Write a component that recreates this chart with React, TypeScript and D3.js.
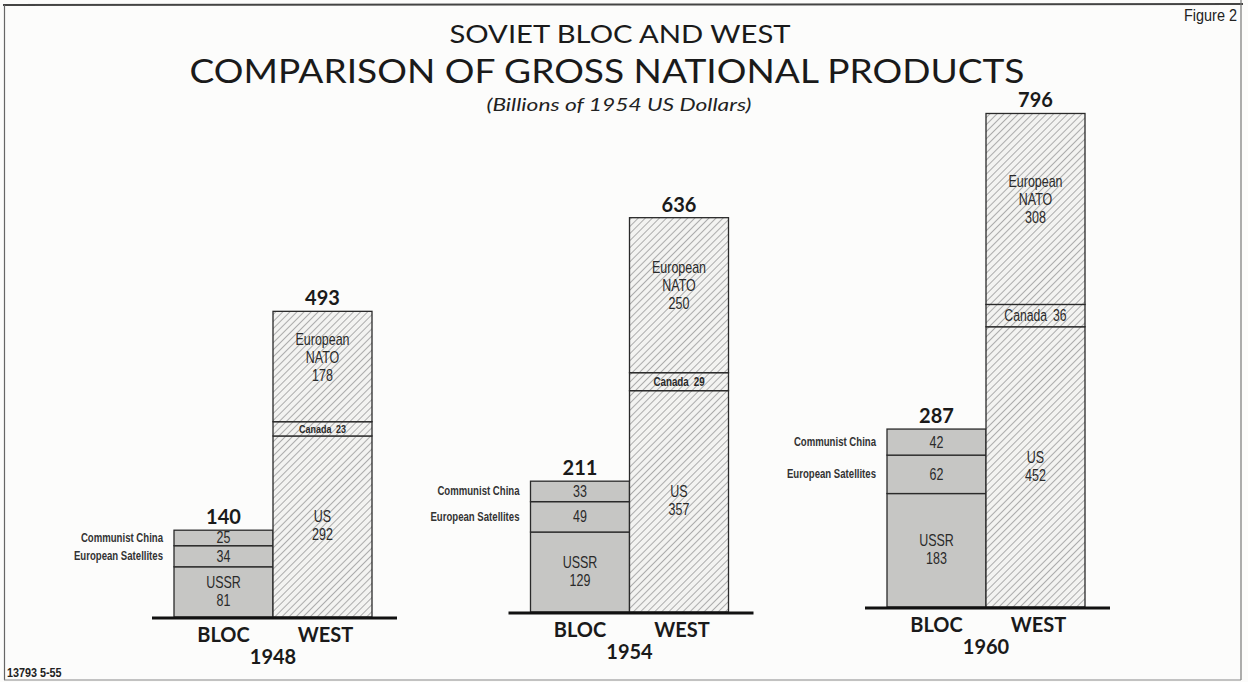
import React from "react";
import * as d3 from "d3";

// values in billions of 1954 US dollars
const years = ["1948", "1954", "1960"];
const sides = ["BLOC", "WEST"];
const ussr = [81, 129, 183];
const euroSatellites = [34, 49, 62];
const communistChina = [25, 33, 42];
const usGnp = [292, 357, 452];
const canada = [23, 29, 36];
const europeanNato = [178, 250, 308];
const blocTotals = [140, 211, 287];
const westTotals = [493, 636, 796];

const W = 1248;
const H = 682;
const titleFont = "Lato, 'Open Sans', sans-serif";
const narrowFont = "'Liberation Sans', Roboto, sans-serif";

// condensed lettering, as on the original chart: squeeze an ordinary face sideways
function Narrow({ x, y, lines, size, anchor = "middle", weight = "normal", lh = 17, sx = 0.78, fill = "#2a2a2a" }: any) {
  return (
    <text transform={`translate(${x},${y}) scale(${sx},1)`} textAnchor={anchor} fontFamily={narrowFont}
      fontSize={size} fontWeight={weight} fill={fill}>
      {lines.map((l: string, i: number) => (
        <tspan key={i} x={0} dy={i === 0 ? 0 : lh}>{l}</tspan>
      ))}
    </text>
  );
}

export default function App() {
  // group centres and the scan's slight tilt of the base lines
  const xGroup = d3.scalePoint<string>().domain(years).range([273, 986]);
  const xSide = d3.scaleBand<string>().domain(sides).range([-99, 99]).paddingInner(0);
  const baseY = d3.scaleLinear().domain([273, 986]).range([617, 607]);
  const hScale = d3.scaleLinear().domain([0, 800]).range([0, 496]);

  const blocRows = years.map((y, i) => ({ year: y, ussr: ussr[i], sat: euroSatellites[i], china: communistChina[i] }));
  const westRows = years.map((y, i) => ({ year: y, us: usGnp[i], canada: canada[i], nato: europeanNato[i] }));
  const blocStack = d3.stack<any>().keys(["ussr", "sat", "china"])(blocRows);
  const westStack = d3.stack<any>().keys(["us", "canada", "nato"])(westRows);

  const segs: any[] = [];
  blocStack.forEach((layer) => {
    layer.forEach((d, i) => {
      segs.push({ side: "BLOC", key: layer.key, year: years[i], y0: d[0], y1: d[1], v: d[1] - d[0] });
    });
  });
  westStack.forEach((layer) => {
    layer.forEach((d, i) => {
      segs.push({ side: "WEST", key: layer.key, year: years[i], y0: d[0], y1: d[1], v: d[1] - d[0] });
    });
  });

  const geom = (s: any) => {
    const cx = xGroup(s.year)!;
    const b = baseY(cx);
    const x = cx + xSide(s.side)!;
    const top = b - hScale(s.y1);
    const bottom = b - hScale(s.y0);
    return { x, w: xSide.bandwidth(), top, bottom, mid: (top + bottom) / 2, cx: x + xSide.bandwidth() / 2 };
  };

  return (
    <svg width={W} height={H} style={{ position: "absolute", left: 0, top: 0, background: "#fcfcfb" }}>
      <defs>
        <pattern id="hatch" width={5} height={5} patternUnits="userSpaceOnUse" patternTransform="rotate(45)">
          <rect width={5} height={5} fill="#f3f3f1" />
          <line x1={0} y1={0} x2={0} y2={5} stroke="#a4a4a4" strokeWidth={1.8} />
        </pattern>
      </defs>

      {/* frame */}
      <line x1={3} y1={5} x2={1243} y2={4} stroke="#444" strokeWidth={2} />
      <line x1={4.5} y1={5} x2={4.5} y2={680} stroke="#666" strokeWidth={1.2} />
      <line x1={1241} y1={0} x2={1241} y2={680} stroke="#777" strokeWidth={1.2} />
      <line x1={4} y1={680} x2={1241} y2={680} stroke="#888" strokeWidth={1} />

      {/* titles */}
      <text x={620} y={43} textAnchor="middle" fontFamily={titleFont} fontSize={25} fill="#1a1a1a"
        textLength={341} lengthAdjust="spacingAndGlyphs">SOVIET BLOC AND WEST</text>
      <text x={607} y={83} textAnchor="middle" fontFamily={titleFont} fontSize={33} fill="#1a1a1a"
        textLength={835} lengthAdjust="spacingAndGlyphs">COMPARISON OF GROSS NATIONAL PRODUCTS</text>
      <text x={619} y={111} textAnchor="middle" fontFamily={titleFont} fontStyle="italic" fontSize={17} fill="#222"
        textLength={265} lengthAdjust="spacingAndGlyphs">(Billions of 1954 US Dollars)</text>
      <Narrow x={1237} y={21} lines={["Figure 2"]} size={17} anchor="end" sx={0.85} fill="#222" />
      <Narrow x={7} y={677} lines={["13793 5-55"]} size={12} anchor="start" weight="bold" sx={0.9} fill="#222" />

      {/* bars */}
      {segs.map((s, i) => {
        const g = geom(s);
        return (
          <rect key={"r" + i} x={g.x} y={g.top} width={g.w} height={g.bottom - g.top}
            fill={s.side === "BLOC" ? "#c6c6c4" : "url(#hatch)"} stroke="#2a2a2a" strokeWidth={1.3} />
        );
      })}

      {/* segment labels */}
      {segs.map((s, i) => {
        const g = geom(s);
        const h = g.bottom - g.top;
        if (s.key === "ussr" || s.key === "us") {
          return <Narrow key={"l" + i} x={g.cx} y={g.mid - 4} lines={[s.key === "ussr" ? "USSR" : "US", String(s.v)]} size={16} lh={18} />;
        }
        if (s.key === "nato") {
          return <Narrow key={"l" + i} x={g.cx} y={g.mid - 22} lines={["European", "NATO", String(s.v)]} size={16} lh={18} />;
        }
        if (s.key === "canada") {
          const fs = Math.max(11.5, Math.min(16, h * 0.7));
          return <Narrow key={"l" + i} x={g.cx} y={g.mid + fs * 0.36} lines={["Canada\u2002" + s.v]} size={fs}
            weight={h < 20 ? "bold" : "normal"} />;
        }
        return <Narrow key={"l" + i} x={g.cx} y={g.mid + 5.5} lines={[String(s.v)]} size={16} />;
      })}

      {/* side labels for bloc segments */}
      {segs.filter((s) => s.key === "sat" || s.key === "china").map((s, i) => {
        const g = geom(s);
        return (
          <Narrow key={"s" + i} x={g.x - 11} y={g.mid + 4} anchor="end" weight="bold" size={12} sx={0.8} fill="#333"
            lines={[s.key === "china" ? "Communist China" : "European Satellites"]} />
        );
      })}

      {/* totals, base lines, axis labels */}
      {years.map((y, i) => {
        const cx = xGroup(y)!;
        const b = baseY(cx);
        const bx = cx + xSide("BLOC")! + xSide.bandwidth() / 2;
        const wx = cx + xSide("WEST")! + xSide.bandwidth() / 2;
        return (
          <g key={"g" + y}>
            <text x={bx} y={b - hScale(blocTotals[i]) - 6} textAnchor="middle" fontFamily={titleFont} fontWeight="bold" fontSize={20} fill="#1a1a1a">{blocTotals[i]}</text>
            <text x={wx} y={b - hScale(westTotals[i]) - 6} textAnchor="middle" fontFamily={titleFont} fontWeight="bold" fontSize={20} fill="#1a1a1a">{westTotals[i]}</text>
            <line x1={cx - 121} x2={cx + 124} y1={b + 1} y2={b + 1} stroke="#111" strokeWidth={3} />
            <text x={bx} y={b + 25} textAnchor="middle" fontFamily={titleFont} fontWeight="bold" fontSize={20} fill="#1a1a1a">BLOC</text>
            <text x={wx + 3} y={b + 25} textAnchor="middle" fontFamily={titleFont} fontWeight="bold" fontSize={20} fill="#1a1a1a">WEST</text>
            <text x={cx} y={b + 47} textAnchor="middle" fontFamily={titleFont} fontWeight="bold" fontSize={20} fill="#1a1a1a">{y}</text>
          </g>
        );
      })}
    </svg>
  );
}
